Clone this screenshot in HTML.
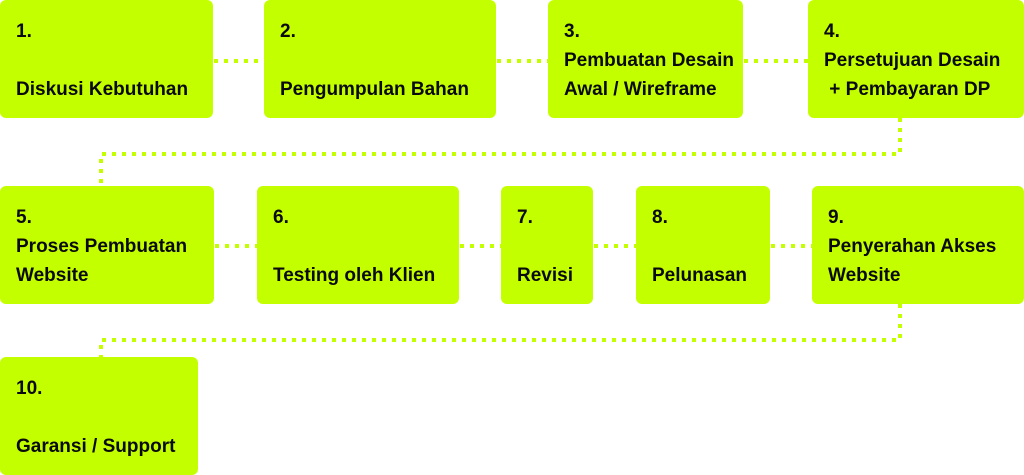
<!DOCTYPE html>
<html><head><style>
body{margin:0;width:1024px;height:475px;background:#fff;position:relative;overflow:hidden;font-family:"Liberation Sans",sans-serif;}
.b{position:absolute;background:#c4ff00;border-radius:6px;box-sizing:border-box;padding:17px 0 0 16px;font-weight:bold;font-size:19px;line-height:29px;color:#0a0a0a;white-space:nowrap;}
svg{position:absolute;left:0;top:0}
</style></head><body>
<svg width="1024" height="475"><g stroke="#c4ff00" stroke-width="4" stroke-dasharray="4 6" fill="none">
<line x1="214" y1="61" x2="264" y2="61"/>
<line x1="497" y1="61" x2="548" y2="61"/>
<line x1="744" y1="61" x2="808" y2="61"/>
<polyline points="900,118 900,154 101,154 101,187"/>
<line x1="215" y1="246" x2="257" y2="246"/>
<line x1="460" y1="246" x2="501" y2="246"/>
<line x1="594" y1="246" x2="636" y2="246"/>
<line x1="771" y1="246" x2="812" y2="246"/>
<polyline points="900,304 900,340 101,340 101,357"/>
</g></svg>
<div class="b" style="left:0;top:0;width:213px;height:118px">1.<br><br>Diskusi Kebutuhan</div>
<div class="b" style="left:264px;top:0;width:232px;height:118px">2.<br><br>Pengumpulan Bahan</div>
<div class="b" style="left:548px;top:0;width:195px;height:118px">3.<br>Pembuatan Desain<br>Awal / Wireframe</div>
<div class="b" style="left:808px;top:0;width:216px;height:118px">4.<br>Persetujuan Desain<br>&nbsp;+ Pembayaran DP</div>
<div class="b" style="left:0;top:186px;width:214px;height:118px">5.<br>Proses Pembuatan<br>Website</div>
<div class="b" style="left:257px;top:186px;width:202px;height:118px">6.<br><br>Testing oleh Klien</div>
<div class="b" style="left:501px;top:186px;width:92px;height:118px">7.<br><br>Revisi</div>
<div class="b" style="left:636px;top:186px;width:134px;height:118px">8.<br><br>Pelunasan</div>
<div class="b" style="left:812px;top:186px;width:212px;height:118px">9.<br>Penyerahan Akses<br>Website</div>
<div class="b" style="left:0;top:357px;width:198px;height:118px">10.<br><br>Garansi / Support</div>
</body></html>
